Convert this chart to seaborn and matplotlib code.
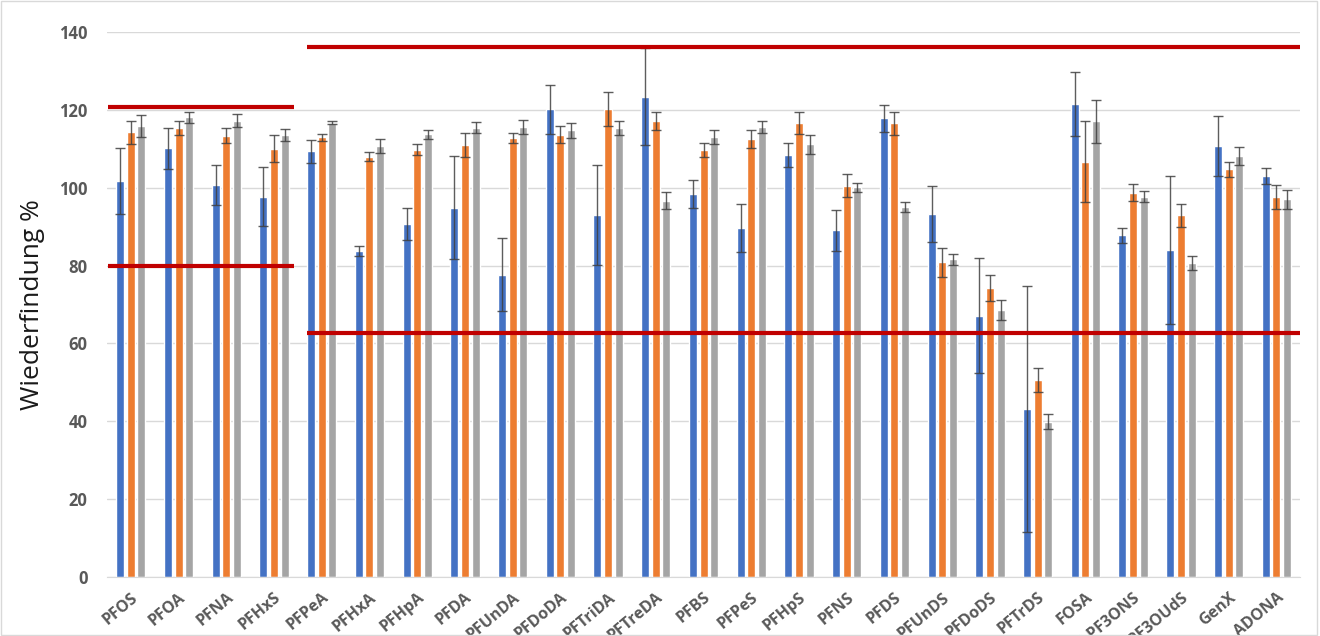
import numpy as np
import pandas as pd
import matplotlib
matplotlib.use("Agg")
import matplotlib.pyplot as plt
from matplotlib.patches import Rectangle
import seaborn as sns

# substances on the x axis
substances = ["PFOS", "PFOA", "PFNA", "PFHxS", "PFPeA", "PFHxA", "PFHpA", "PFDA",
              "PFUnDA", "PFDoDA", "PFTriDA", "PFTreDA", "PFBS", "PFPeS", "PFHpS",
              "PFNS", "PFDS", "PFUnDS", "PFDoDS", "PFTrDS", "FOSA", "9Cl-PF3ONS",
              "11Cl-PF3OUdS", "GenX", "ADONA"]

# recovery in % (mean) and standard deviation for the three series
blue_vals = [101.7, 110.1, 100.7, 97.7, 109.3, 83.7, 90.7, 94.9, 77.6, 120.1, 92.9, 123.4,
             98.4, 89.7, 108.3, 89.0, 117.8, 93.2, 67.1, 43.2, 121.5, 87.8, 84.0, 110.7, 103.0]
blue_err = [8.5, 5.2, 5.2, 7.6, 3.0, 1.3, 4.1, 13.2, 9.4, 6.3, 12.8, 12.4,
            3.6, 6.2, 3.1, 5.3, 3.4, 7.1, 14.8, 31.6, 8.3, 1.9, 19.0, 7.7, 2.0]
orange_vals = [114.2, 115.2, 113.3, 110.0, 112.9, 108.0, 109.7, 111.0, 112.7, 113.6, 120.2, 117.1,
               109.7, 112.5, 116.7, 100.5, 116.5, 80.8, 74.2, 50.6, 106.7, 98.7, 92.9, 104.7, 97.5]
orange_err = [2.9, 1.8, 1.9, 3.4, 0.8, 1.2, 1.4, 3.0, 1.3, 2.2, 4.3, 2.4,
              1.7, 2.2, 2.8, 2.9, 3.0, 3.7, 3.3, 3.0, 10.3, 2.2, 3.0, 2.0, 3.1]
gray_vals = [115.9, 118.1, 117.2, 113.5, 116.7, 110.7, 113.7, 115.4, 115.6, 114.7, 115.3, 96.7,
             112.9, 115.6, 111.1, 100.1, 95.0, 81.6, 68.6, 39.9, 117.0, 97.7, 80.7, 108.1, 97.0]
gray_err = [2.8, 1.4, 1.7, 1.6, 0.4, 1.9, 1.1, 1.4, 1.7, 2.0, 1.7, 2.2,
            1.8, 1.6, 2.5, 1.1, 1.2, 1.4, 2.6, 2.0, 5.6, 1.5, 1.8, 2.3, 2.4]

series_names = ["Reihe 1", "Reihe 2", "Reihe 3"]
series_colors = ["#4472C4", "#ED7D31", "#A5A5A5"]

# acceptance limits
limits_left = [120.6, 80.0]
limits_right = [136.2, 62.6]

# long format table for seaborn
df = pd.DataFrame({
    "Substanz": substances * 3,
    "Wiederfindung": blue_vals + orange_vals + gray_vals,
    "Reihe": [s for s in series_names for _ in substances],
})

sns.set_style("white")
plt.rcParams["font.family"] = ["Open Sans", "DejaVu Sans"]

fig = plt.figure(figsize=(13.2, 6.36), dpi=100)
ax = fig.add_axes([0.081, 0.0928, 0.904, 0.857])

sns.barplot(data=df, x="Substanz", y="Wiederfindung", hue="Reihe",
            palette=series_colors, saturation=1, width=0.67, gap=0.25,
            errorbar=None, legend=False, ax=ax)

# error bars on top of each bar
for container, errs in zip(ax.containers, [blue_err, orange_err, gray_err]):
    xs = [p.get_x() + p.get_width() / 2 for p in container]
    ys = [p.get_height() for p in container]
    ax.errorbar(xs, ys, yerr=errs, fmt="none", ecolor="#404040", elinewidth=1,
                capsize=3.5, capthick=1, alpha=0.85, zorder=3)

# red limit lines
ax.hlines(limits_left, -0.48, 3.42, colors="#C00000", linewidth=3, zorder=4)
ax.hlines(limits_right, 3.69, len(substances) - 0.5, colors="#C00000", linewidth=3, zorder=4)

ax.set_xlim(-0.5, len(substances) - 0.5)
ax.set_ylim(0, 140)
ax.set_yticks(np.arange(0, 141, 20))
ax.yaxis.grid(True, color="#D9D9D9", linewidth=1)
ax.set_axisbelow(True)
for side in ["top", "right", "left"]:
    ax.spines[side].set_visible(False)
ax.spines["bottom"].set_color("#D9D9D9")
ax.tick_params(axis="y", length=0, pad=14, labelsize=12, labelcolor="#595959")
ax.tick_params(axis="x", length=0, pad=9, labelsize=11.5, labelcolor="#595959")
for lab in ax.get_yticklabels():
    lab.set_fontweight("bold")

# rotated substance labels (the long ones run off the bottom edge like in the original)
ax.set_xticks(range(len(substances)), labels=substances, rotation=40, ha="right",
              rotation_mode="anchor", fontweight="bold")

ax.set_xlabel("")
ax.set_ylabel("Wiederfindung %", fontsize=19, color="#1a1a1a", labelpad=10)

# thin frame around the chart area
fig.patches.append(Rectangle((0.001, 0.001), 0.997, 0.997, transform=fig.transFigure,
                             fill=False, edgecolor="#D9D9D9", linewidth=1))

fig.savefig("out.png", dpi=100)
